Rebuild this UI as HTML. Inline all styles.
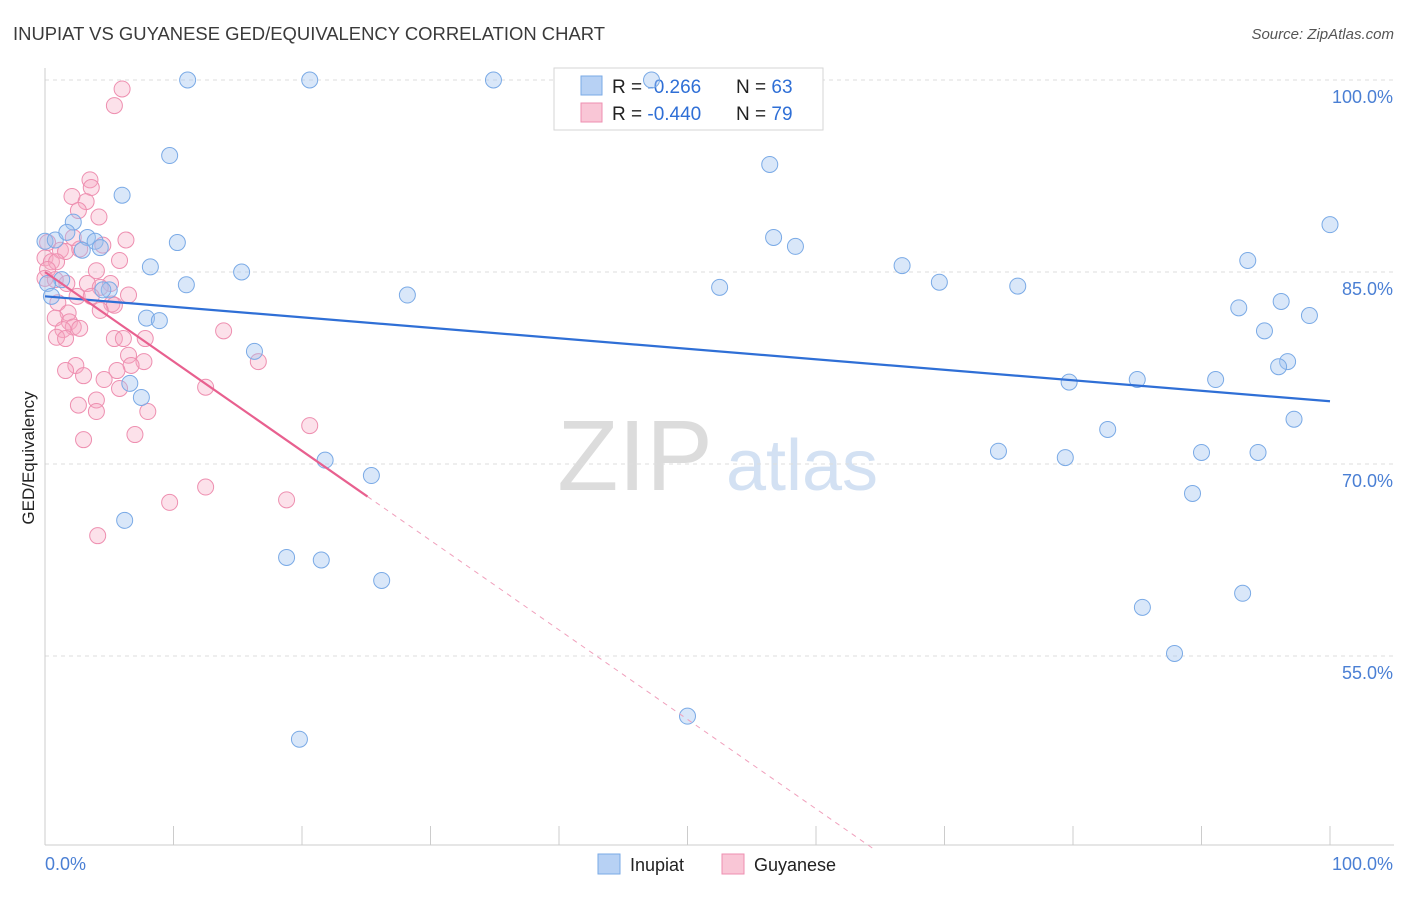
<!DOCTYPE html>
<html><head><meta charset="utf-8"><style>
body{margin:0;background:#fff;font-family:"Liberation Sans",sans-serif}
svg text{font-family:"Liberation Sans",sans-serif}
</style></head><body>
<svg id="chart" width="1406" height="892" viewBox="0 0 1406 892" xmlns="http://www.w3.org/2000/svg">
<text x="13" y="40" font-size="18" fill="#3a3a3a" textLength="592" lengthAdjust="spacingAndGlyphs">INUPIAT VS GUYANESE GED/EQUIVALENCY CORRELATION CHART</text>
<text x="1394" y="39" font-size="15" fill="#555" font-style="italic" text-anchor="end">Source: ZipAtlas.com</text>
<g>
<text x="635" y="490" font-size="100" fill="#dcdcdc" font-family="Liberation Serif,serif" text-anchor="middle">ZIP</text>
<text x="802" y="490" font-size="72" fill="#d3e1f3" text-anchor="middle">atlas</text>
</g>
<g id="grid"></g>
<g id="axes"></g>
<g>
<rect x="554" y="68" width="269" height="62" fill="#fff" stroke="#d6d6d6"/>
<rect x="581" y="76" width="21" height="19" fill="#b7d1f4" stroke="#7aaae6"/>
<text x="612" y="93" font-size="19" fill="#222">R = <tspan fill="#2f6fd6">-0.266</tspan></text>
<text x="736" y="93" font-size="19" fill="#222">N = <tspan fill="#2f6fd6">63</tspan></text>
<rect x="581" y="103" width="21" height="19" fill="#f9c6d6" stroke="#ee8fb0"/>
<text x="612" y="120" font-size="19" fill="#222">R = <tspan fill="#2f6fd6">-0.440</tspan></text>
<text x="736" y="120" font-size="19" fill="#222">N = <tspan fill="#2f6fd6">79</tspan></text>
</g>
<g id="marks"></g>
<text transform="translate(34,458) rotate(-90)" font-size="17" fill="#222" text-anchor="middle">GED/Equivalency</text>
<g>
<rect x="598" y="854" width="22" height="20" fill="#b7d1f4" stroke="#7aaae6"/>
<text x="630" y="871" font-size="18" fill="#222">Inupiat</text>
<rect x="722" y="854" width="22" height="20" fill="#f9c6d6" stroke="#ee8fb0"/>
<text x="754" y="871" font-size="18" fill="#222">Guyanese</text>
</g>
</svg>
<script>
const yTicks=[100,85,70,55];
const yTickLabels=["100.0%","85.0%","70.0%","55.0%"];
const xEndLabels=["0.0%","100.0%"];
const inupiatX=[11.1,20.6,34.9,47.2,9.7,6.0,56.4,2.2,0,0.8,1.7,3.3,3.9,4.3,2.9,10.3,56.7,58.4,100,8.2,15.3,66.7,93.6,1.3,11.0,5.0,4.5,28.2,52.5,69.6,75.7,92.9,96.2,98.4,94.9,7.9,8.9,16.3,96.7,96.0,6.6,7.5,79.7,85.0,91.1,97.2,82.7,21.8,25.4,74.2,79.4,90.0,94.4,89.3,6.2,18.8,21.5,26.2,85.4,93.2,87.9,50.0,19.8,0.2,0.5];
const inupiatY=[100,100,100,100,94.1,91.0,93.4,88.9,87.4,87.5,88.1,87.7,87.4,86.9,86.7,87.3,87.7,87.0,88.7,85.4,85.0,85.5,85.9,84.4,84.0,83.6,83.6,83.2,83.8,84.2,83.9,82.2,82.7,81.6,80.4,81.4,81.2,78.8,78.0,77.6,76.3,75.2,76.4,76.6,76.6,73.5,72.7,70.3,69.1,71.0,70.5,70.9,70.9,67.7,65.6,62.7,62.5,60.9,58.8,59.9,55.2,50.3,48.5,84.1,83.1];
const guyaneseX=[6.0,5.4,3.5,3.6,2.1,3.2,2.6,4.2,6.3,2.2,4.5,0.2,1.2,1.6,2.7,0,0.5,0.9,0.2,5.8,4.0,0,0.8,1.7,3.3,5.1,4.3,2.5,3.6,6.5,1.0,5.2,5.4,4.3,1.8,0.8,1.9,2.2,1.4,2.7,0.9,1.6,5.4,6.1,7.8,13.9,6.5,7.7,16.6,6.7,5.6,2.4,1.6,3.0,4.6,5.8,12.5,4.0,2.6,8.0,4.0,7.0,3.0,20.6,12.5,9.7,18.8,4.1];
const guyaneseY=[99.3,98.0,92.2,91.6,90.9,90.5,89.8,89.3,87.5,87.7,87.1,87.3,86.7,86.6,86.8,86.1,85.8,85.8,85.2,85.9,85.1,84.5,84.4,84.1,84.1,84.1,83.8,83.1,83.1,83.2,82.6,82.5,82.4,82.0,81.8,81.4,81.1,80.7,80.5,80.6,79.9,79.8,79.8,79.8,79.8,80.4,78.5,78.0,78.0,77.7,77.3,77.7,77.3,76.9,76.6,75.9,76.0,75.0,74.6,74.1,74.1,72.3,71.9,73.0,68.2,67.0,67.2,64.4];
const inupiatTrend=[83.1,74.9];
const guyaneseTrend=[85.0,15.1];
const guyaneseSolidEnd=25.1;

const NS="http://www.w3.org/2000/svg";
const X=v=>45+v*12.85;
const Y=v=>80+(100-v)*12.8;
function mk(tag,attrs,parent){const e=document.createElementNS(NS,tag);for(const k in attrs)e.setAttribute(k,attrs[k]);parent.appendChild(e);return e;}
const grid=document.getElementById('grid'),axes=document.getElementById('axes'),marks=document.getElementById('marks');
yTicks.forEach((t,i)=>{
  const l=mk('line',{x1:45,x2:1394,y1:Y(t),y2:Y(t),stroke:'#dedede','stroke-dasharray':'4 4'},grid);
  
  
  const tx=mk('text',{x:1393,y:Y(t)+23,'font-size':18,fill:'#4a7fd4','text-anchor':'end'},axes);
  tx.textContent=yTickLabels[i];
  
  
});
const ya=mk('line',{x1:45,x2:45,y1:68,y2:845,stroke:'#ccc'},axes);


const xa=mk('line',{x1:45,x2:1394,y1:845,y2:845,stroke:'#ccc'},axes);


for(let i=0;i<=10;i++){
  const tk=mk('line',{x1:X(i*10),x2:X(i*10),y1:826,y2:845,stroke:'#ccc'},axes);
  
  
}
const xl0=mk('text',{x:45,y:870,'font-size':18,fill:'#4a7fd4'},axes);xl0.textContent=xEndLabels[0];


const xl1=mk('text',{x:1393,y:870,'font-size':18,fill:'#4a7fd4','text-anchor':'end'},axes);xl1.textContent=xEndLabels[1];



guyaneseX.forEach((v,i)=>{
  const c=mk('circle',{cx:X(v),cy:Y(guyaneseY[i]),r:8,fill:'rgba(246,170,196,0.35)',stroke:'#ee8fb0','stroke-width':1},marks);
  
  
});
inupiatX.forEach((v,i)=>{
  const c=mk('circle',{cx:X(v),cy:Y(inupiatY[i]),r:8,fill:'rgba(160,196,240,0.4)',stroke:'#7aaae6','stroke-width':1},marks);
  
  
});
const bl=mk('line',{x1:X(0),y1:Y(inupiatTrend[0]),x2:X(100),y2:Y(inupiatTrend[1]),stroke:'#2f6fd6','stroke-width':2.2},marks);


const gy=x=>guyaneseTrend[0]+(guyaneseTrend[1]-guyaneseTrend[0])*x/100;
const pl=mk('line',{x1:X(0),y1:Y(gy(0)),x2:X(guyaneseSolidEnd),y2:Y(gy(guyaneseSolidEnd)),stroke:'#e8608f','stroke-width':2.2},marks);


const xEnd=(40-guyaneseTrend[0])/(guyaneseTrend[1]-guyaneseTrend[0])*100;
const pd=mk('line',{x1:X(guyaneseSolidEnd),y1:Y(gy(guyaneseSolidEnd)),x2:X(xEnd),y2:Y(gy(xEnd)),stroke:'#f0a0bc','stroke-width':1,'stroke-dasharray':'5 5'},marks);


</script>
</body></html>
